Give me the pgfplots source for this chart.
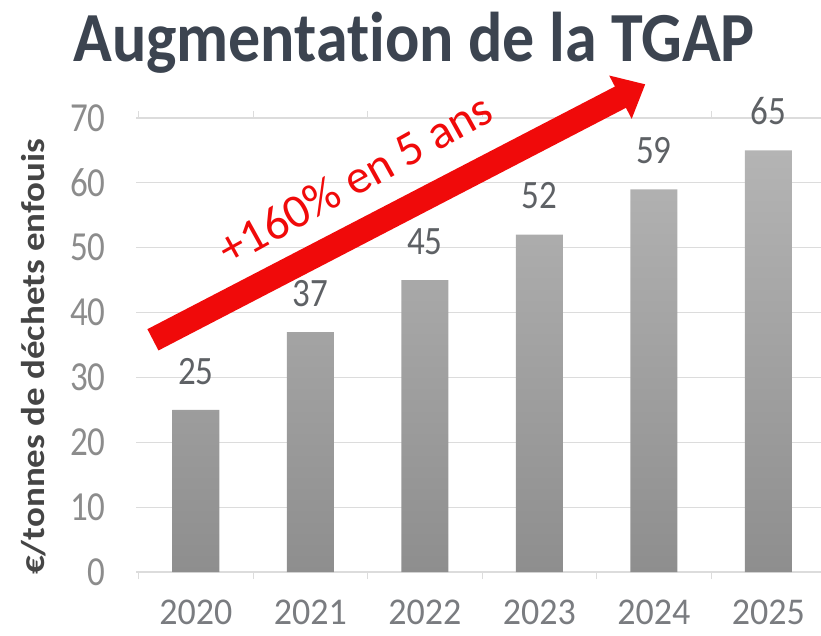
\documentclass[border=0pt]{standalone}
\usepackage{pgfplots}
\pgfplotsset{compat=1.18}
\usetikzlibrary{arrows.meta}
\usepackage{graphicx}
\usepackage{fontspec}
\setmainfont{Carlito}[Ligatures=NoCommon]
\definecolor{titlecol}{HTML}{3C4450}
\definecolor{tickcol}{HTML}{8C8C8C}
\definecolor{yearcol}{HTML}{7A7C80}
\definecolor{valcol}{HTML}{5E6165}
\definecolor{labcol}{HTML}{454545}
\definecolor{gridcol}{HTML}{DCDCDC}
\definecolor{arrowred}{HTML}{F00A0A}
\definecolor{bartop}{HTML}{B4B4B4}
\definecolor{barbot}{HTML}{8E8E8E}
\newcommand{\vs}[2]{\scalebox{1}[#1]{#2}}
\begin{document}
\begin{tikzpicture}[x=1pt,y=1pt]
\path[use as bounding box] (0,0) rectangle (821,635);
\node[font=\fontsize{64}{70}\selectfont\bfseries, text=titlecol, anchor=base, inner sep=1pt] at (414,573) {\vs{1.1}{Augmentation de la TGAP}};
\begin{axis}[
  at={(136pt,63pt)}, anchor=south west,
  scale only axis, width=685pt, height=454pt,
  xmin=-0.524, xmax=5.46, ymin=0, ymax=70,
  clip=false,
  axis line style={draw=none},
  ytick={0,10,...,70},
  yticklabel={\vs{1.18}{\pgfmathprintnumber{\tick}}},
  ymajorgrids, grid style={gridcol, line width=1.2pt},
  xtick={0,1,2,3,4,5},
  xticklabels={\vs{1.05}{2020},\vs{1.05}{2021},\vs{1.05}{2022},\vs{1.05}{2023},\vs{1.05}{2024},\vs{1.05}{2025}},
  minor xtick={-0.5,0.5,1.5,2.5,3.5,4.5,5.5},
  major tick length=0pt,
  minor tick length=7pt,
  tick align=outside,
  minor tick style={gridcol, line width=1.2pt},
  /pgf/number format/assume math mode=true,
  yticklabel style={font=\fontsize{35}{38}\selectfont, text=tickcol, anchor=east, inner sep=1pt, xshift=-29.3pt},
  xticklabel style={font=\fontsize{36}{38}\selectfont, text=yearcol, anchor=north, inner sep=1pt, yshift=-26.5pt},
  ylabel={\scalebox{1.12}[1]{€/tonnes de déchets enfouis}},
  ylabel style={font=\fontsize{33}{36}\selectfont\bfseries, text=labcol, inner sep=1pt, at={(axis description cs:-0.149,0.474)}, anchor=center, rotate=0},
  ybar, bar width=47pt,
  nodes near coords={\vs{1.15}{\pgfmathprintnumber{\pgfplotspointmeta}}},
  every node near coord/.append style={font=\fontsize{35}{38}\selectfont, text=valcol, inner sep=1pt, yshift=24.3pt},
]
\addplot[draw=none, top color=bartop, bottom color=barbot] coordinates {(0,25) (1,37) (2,45) (3,52) (4,59) (5,65)};
\draw[arrowred, line width=24pt, -{Triangle[width=47pt,length=28pt]}] (axis cs:-0.376,35.8) -- (axis cs:3.925,75.2);
\node[font=\fontsize{48}{50}\selectfont, text=arrowred, rotate=29, inner sep=1pt] at (axis cs:1.39,60.6) {+160\% en 5 ans};
\end{axis}
\end{tikzpicture}
\end{document}
